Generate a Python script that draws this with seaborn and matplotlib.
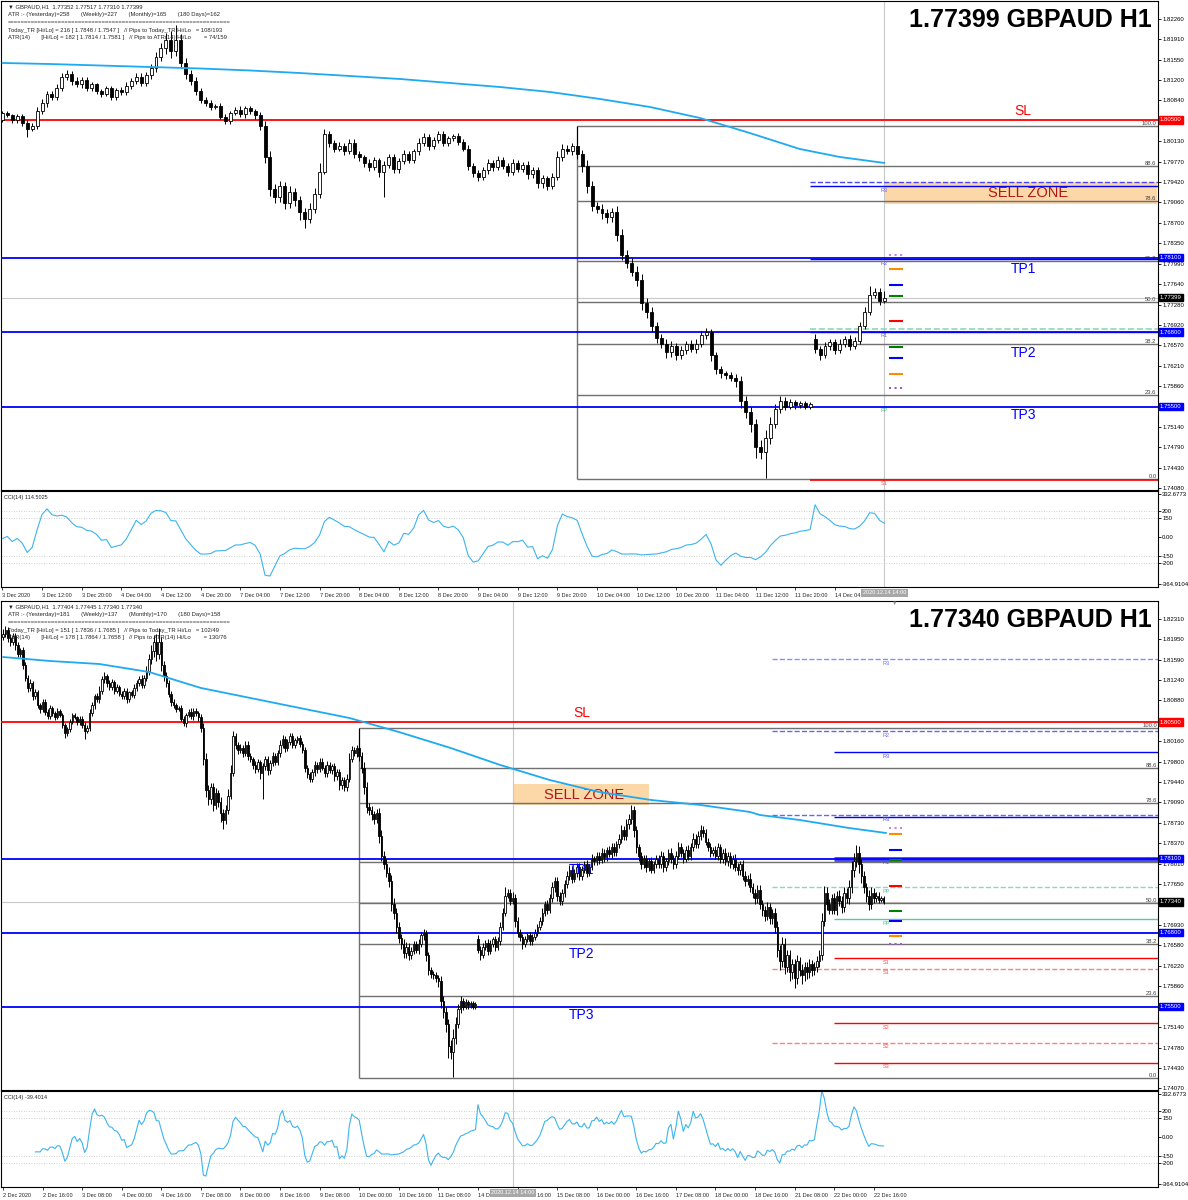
import numpy as np
import pandas as pd
import matplotlib
matplotlib.use("Agg")
import matplotlib.pyplot as plt
import matplotlib.transforms as mtrans
import seaborn as sns

W, H = 1188, 1200

# GBPAUD H1 closes in pips (x 1e-4), one row per trading day
# 2 Dec 00:00 .. 22 Dec 20:00 (bar 0 .. bar 356)
week1_close = [
    18205, 18212, 18198, 18190, 18201, 18185, 18170, 18176, 18150, 18128, 18110, 18118, 18095, 18102, 18080, 18072, 18085, 18068, 18060, 18075, 18066, 18058, 18070, 18062,
    18045, 18030, 18038, 18050, 18062, 18058, 18050, 18056, 18044, 18035, 18040, 18065, 18080, 18095, 18090, 18105, 18125, 18130, 18118, 18112, 18120, 18105, 18112, 18100,
    18095, 18105, 18090, 18102, 18098, 18110, 18118, 18125, 18115, 18128, 18140, 18160, 18175, 18190, 18170, 18190, 18150, 18130, 18118, 18100, 18085, 18080, 18072, 18075,
]
week2_close = [
    18055, 18048, 18062, 18068, 18060, 18070, 18065, 18058, 18040, 17985, 17930, 17915, 17935, 17905, 17925, 17910, 17890, 17878, 17895, 17920, 17960, 18025, 18010, 18000,
    18005, 17995, 18010, 17990, 17985, 17975, 17968, 17980, 17960, 17972, 17985, 17965, 17978, 17990, 17980, 17995, 18010, 18020, 18005, 18015, 18025, 18010, 18018, 18022,
    18012, 18000, 17970, 17958, 17950, 17962, 17975, 17968, 17980, 17970, 17960, 17975, 17965, 17972, 17955, 17962, 17940, 17948, 17935, 17950, 17985, 18000, 17995, 18005,
    17990, 17970, 17935, 17900, 17895, 17888, 17880, 17890, 17850, 17815, 17800, 17785, 17770, 17730, 17715, 17690, 17670, 17660, 17645, 17655, 17640, 17648, 17660, 17650,
    17660, 17675, 17680, 17640, 17615, 17608, 17605, 17600, 17595, 17560, 17540, 17520, 17480, 17470, 17495, 17520, 17545, 17560, 17550, 17558, 17552, 17556, 17550, 17555,
]
week3_close = [
    17650, 17640, 17655, 17662, 17648, 17660, 17668, 17655, 17665, 17690, 17715, 17745, 17750, 17735, 17740, 17700, 17680, 17672, 17660, 17668, 17675, 17665, 17672, 17680,
    17690, 17700, 17715, 17730, 17720, 17740, 17760, 17770, 17745, 17735, 17750, 17765, 17780, 17790, 17775, 17785, 17795, 17780, 17790, 17800, 17785, 17795, 17810, 17805,
    17815, 17808, 17820, 17812, 17825, 17818, 17830, 17822, 17835, 17845, 17860, 17850, 17870, 17880, 17895, 17860, 17830, 17815, 17800, 17810, 17795, 17805, 17790, 17800,
    17810, 17800, 17815, 17795, 17805, 17820, 17810, 17800, 17815, 17830, 17820, 17810, 17825, 17815, 17830, 17845, 17835, 17850, 17860, 17855, 17840, 17830, 17820, 17825,
    17815, 17830, 17810, 17820, 17805, 17815, 17800, 17810, 17795, 17790, 17800, 17780, 17770, 17775, 17760, 17750, 17740, 17755, 17730, 17720, 17710, 17725, 17705, 17715,
]
week4_close = [
    17690, 17650, 17630, 17660, 17620, 17640, 17610, 17625, 17600, 17630, 17615, 17605, 17620, 17610, 17625, 17615, 17620, 17630, 17640, 17700, 17750, 17730, 17720, 17740,
    17720, 17745, 17735, 17725, 17750, 17740, 17760, 17790, 17805, 17820, 17800, 17780, 17760, 17745, 17730, 17750, 17740, 17745, 17738, 17740, 17734,
]

# upper / lower wick length in pips
week1_wick_up = [
    8, 6, 5, 7, 6, 5, 6, 4, 5, 6, 5, 7, 4, 6, 5, 4, 6, 5, 4, 5, 4, 3, 4, 3,
    3, 4, 3, 5, 4, 4, 3, 5, 4, 6, 5, 7, 6, 5, 6, 8, 6, 7, 5, 6, 5, 4, 4, 3,
    4, 5, 4, 3, 5, 6, 5, 6, 7, 5, 8, 9, 10, 12, 15, 25, 10, 8, 7, 6, 5, 5, 4, 3,
]
week2_wick_up = [
    5, 6, 4, 5, 6, 4, 5, 4, 6, 8, 10, 9, 8, 7, 9, 6, 8, 7, 10, 12, 15, 10, 6, 5,
    6, 5, 7, 6, 5, 4, 6, 5, 4, 6, 5, 6, 5, 7, 6, 5, 8, 7, 6, 5, 6, 5, 4, 4,
    5, 4, 6, 5, 4, 5, 6, 5, 7, 6, 5, 6, 5, 4, 6, 5, 5, 6, 5, 8, 10, 8, 6, 5,
    35, 8, 10, 9, 7, 8, 6, 7, 9, 10, 8, 9, 10, 12, 10, 9, 8, 7, 8, 9, 6, 7, 5, 6,
    8, 6, 7, 5, 6, 5, 4, 5, 6, 8, 9, 10, 8, 12, 15, 12, 10, 8, 6, 5, 4, 4, 3, 3,
]
week3_wick_up = [
    8, 6, 7, 5, 6, 7, 5, 6, 7, 8, 9, 15, 7, 6, 12, 8, 7, 6, 5, 6, 5, 6, 5, 6,
    6, 7, 8, 6, 7, 8, 9, 8, 7, 6, 7, 8, 9, 8, 7, 6, 7, 8, 7, 6, 7, 6, 8, 5,
    7, 6, 8, 7, 6, 7, 8, 7, 6, 8, 9, 8, 10, 9, 9, 8, 7, 6, 7, 6, 7, 6, 7, 5,
    7, 6, 8, 7, 6, 7, 8, 7, 8, 9, 8, 7, 8, 9, 8, 10, 9, 8, 9, 8, 7, 6, 7, 6,
    7, 8, 6, 7, 8, 7, 6, 7, 8, 7, 6, 7, 8, 7, 9, 8, 7, 8, 9, 8, 7, 8, 7, 6,
]
week4_wick_up = [
    8, 10, 9, 12, 10, 9, 10, 8, 9, 10, 8, 9, 8, 9, 8, 7, 8, 9, 10, 15, 12, 10, 9, 8,
    9, 8, 10, 9, 10, 9, 12, 15, 14, 14, 12, 10, 9, 8, 9, 10, 8, 7, 6, 5, 4,
]
week1_wick_dn = [
    6, 5, 7, 6, 5, 8, 6, 5, 7, 6, 8, 5, 6, 5, 6, 7, 5, 6, 5, 4, 5, 4, 3, 4,
    5, 8, 4, 5, 4, 3, 6, 5, 4, 15, 4, 6, 5, 7, 5, 6, 5, 6, 7, 5, 6, 5, 4, 4,
    5, 4, 6, 5, 4, 5, 6, 5, 6, 5, 6, 7, 8, 10, 12, 9, 10, 8, 7, 6, 6, 5, 4, 3,
]
week2_wick_dn = [
    4, 5, 6, 4, 5, 6, 5, 6, 8, 10, 12, 10, 9, 11, 8, 10, 15, 16, 8, 7, 6, 5, 7, 6,
    5, 6, 5, 7, 6, 8, 7, 6, 10, 45, 6, 8, 7, 5, 6, 5, 6, 5, 7, 6, 5, 6, 5, 4,
    6, 5, 8, 7, 6, 5, 6, 7, 6, 5, 7, 6, 5, 6, 8, 7, 9, 8, 7, 6, 5, 6, 5, 6,
    8, 10, 12, 9, 8, 10, 9, 8, 12, 10, 9, 8, 10, 12, 11, 10, 9, 8, 10, 9, 8, 7, 6, 5,
    7, 6, 8, 10, 9, 8, 7, 6, 10, 12, 10, 15, 20, 12, 44, 10, 8, 7, 6, 5, 6, 5, 4, 4,
]
week3_wick_dn = [
    6, 8, 5, 6, 7, 5, 6, 7, 5, 6, 5, 6, 5, 7, 4, 10, 8, 7, 8, 6, 5, 7, 6, 5,
    6, 5, 7, 6, 8, 6, 7, 8, 9, 7, 6, 7, 6, 7, 8, 6, 7, 8, 7, 6, 7, 6, 5, 6,
    6, 7, 6, 8, 7, 6, 7, 8, 7, 6, 7, 8, 7, 8, 9, 12, 10, 9, 8, 7, 8, 7, 6, 6,
    6, 7, 6, 8, 7, 6, 7, 8, 7, 6, 8, 7, 6, 7, 8, 7, 6, 7, 8, 7, 6, 7, 8, 6,
    6, 7, 8, 7, 6, 8, 7, 8, 7, 9, 8, 7, 8, 7, 8, 9, 10, 8, 9, 10, 9, 8, 10, 9,
]
week4_wick_dn = [
    10, 12, 15, 10, 12, 10, 15, 12, 18, 10, 12, 15, 10, 12, 10, 11, 10, 9, 10, 8, 9, 10, 8, 7,
    8, 9, 8, 10, 9, 8, 9, 10, 12, 10, 15, 12, 10, 12, 10, 9, 8, 7, 6, 5, 3,
]
first_open = 1.8200
gap_opens = {192: 1.7668}   # Monday 14 Dec open

# moving average (bar index, price)
top_ma_bars = [28, 37.6, 47.7, 57.8, 67.9, 78.0, 88.0, 98.1, 108.2, 118.3, 128.4, 138.5,
               148.6, 158.7, 168.8, 178.8, 188.9, 197.0, 206]
top_ma_vals = [1.81493, 1.81475, 1.81449, 1.81423, 1.81397, 1.81362, 1.81318, 1.81266, 1.81214, 1.81144,
               1.81074, 1.80987, 1.80865, 1.80725, 1.80533, 1.80272, 1.79993, 1.79853, 1.79749]
bot_ma_bars = [0, 19, 39, 59, 80, 100, 120, 140, 160, 181, 201, 221, 241, 262, 282, 302, 306, 322, 342, 357]
bot_ma_vals = [1.81642, 1.81572, 1.81519, 1.81379, 1.81098, 1.80922, 1.80746, 1.80571, 1.80325, 1.80043,
               1.79745, 1.79481, 1.79270, 1.79130, 1.79042, 1.78919, 1.78866, 1.78779, 1.78638, 1.78550]

# trade levels
level_texts = ["SL", "TP1", "TP2", "TP3"]
level_prices = [1.80500, 1.78100, 1.76800, 1.75500]
level_colors = ["#FF0000", "#0000FF", "#0000FF", "#0000FF"]
level_text_dy = [9, -11, -21, -8]

fib_ratios = [100.0, 88.6, 78.6, 61.8, 50.0, 38.2, 23.6, 0.0]
fib_high, fib_low = 1.8040, 1.7424
sell_zone = (1.7904, 1.7941)

top_yticks = [1.82260, 1.81910, 1.81550, 1.81200, 1.80840, 1.80130, 1.79770, 1.79420, 1.79060, 1.78700, 1.78350,
              1.77990, 1.77640, 1.77280, 1.76920, 1.76570, 1.76210, 1.75860, 1.75140, 1.74790, 1.74430, 1.74080]
bot_yticks = [1.82310, 1.81950, 1.81590, 1.81240, 1.80880, 1.80160, 1.79800, 1.79440, 1.79090, 1.78730, 1.78370,
              1.78010, 1.77650, 1.76930, 1.76580, 1.76220, 1.75860, 1.75140, 1.74780, 1.74430, 1.74070]
cci_ticks = [332.6773, 200, 150, 0, -150, -200, -364.9104]
cci_tick_labels = ["332.6773", "200", "150", "0.00", "-150", "-200", "-364.9104"]

top_xt_labels = ["3 Dec 2020", "3 Dec 12:00", "3 Dec 20:00", "4 Dec 04:00", "4 Dec 12:00", "4 Dec 20:00",
                 "7 Dec 04:00", "7 Dec 12:00", "7 Dec 20:00", "8 Dec 04:00", "8 Dec 12:00", "8 Dec 20:00",
                 "9 Dec 04:00", "9 Dec 12:00", "9 Dec 20:00", "10 Dec 04:00", "10 Dec 12:00", "10 Dec 20:00",
                 "11 Dec 04:00", "11 Dec 12:00", "11 Dec 20:00", "14 Dec 04:00"]
bot_xt_labels = ["2 Dec 2020", "2 Dec 16:00", "3 Dec 08:00", "4 Dec 00:00", "4 Dec 16:00", "7 Dec 08:00",
                 "8 Dec 00:00", "8 Dec 16:00", "9 Dec 08:00", "10 Dec 00:00", "10 Dec 16:00", "11 Dec 08:00",
                 "14 Dec 00:00", "14 Dec 16:00", "15 Dec 08:00", "16 Dec 00:00", "16 Dec 16:00", "17 Dec 08:00",
                 "18 Dec 00:00", "18 Dec 16:00", "21 Dec 08:00", "22 Dec 00:00", "22 Dec 16:00"]

top_header = ["\u25bc GBPAUD,H1  1.77352 1.77517 1.77310 1.77399",
              "ATR :- (Yesterday)=258       (Weekly)=227       (Monthly)=165       (180 Days)=162",
              "=" * 66,
              "Today_TR [Hi/Lo] = 216 [ 1.7848 / 1.7547 ]   // Pips to Today_TR Hi/Lo   = 108/193",
              "ATR(14)       [Hi/Lo] = 182 [ 1.7814 / 1.7581 ]   // Pips to ATR(14) Hi/Lo        = 74/159"]
bot_header = ["\u25bc GBPAUD,H1  1.77404 1.77445 1.77340 1.77340",
              "ATR :- (Yesterday)=181       (Weekly)=137       (Monthly)=170       (180 Days)=158",
              "=" * 66,
              "Today_TR [Hi/Lo] = 151 [ 1.7836 / 1.7685 ]   // Pips to Today_TR Hi/Lo   = 102/49",
              "ATR(14)       [Hi/Lo] = 178 [ 1.7864 / 1.7658 ]   // Pips to ATR(14) Hi/Lo        = 130/76"]

# pivot lines (start bar, price, colour, style, width)
top_piv_start = [191, 191, 191, 191, 191, 191]
top_piv_price = [1.79417, 1.79347, 1.78070, 1.76853, 1.76801, 1.74220]
top_piv_color = ["#4848FF", "#0000FF", "#0000FF", "#8ED8B8", "#0000FF", "#FF0000"]
top_piv_style = ["--", "-", "-", "--", "-", "-"]
top_piv_lw = [1, 1, 1, 1.2, 1, 1.2]
top_piv_text = ["R3", "R2", "R1", "PP", "S1"]
top_piv_text_price = [1.79347, 1.78070, 1.76801, 1.75500, 1.74220]
top_piv_text_color = ["#6060FF", "#6060FF", "#6060FF", "#50C090", "#FF5050"]

bot_piv_start = [311, 311, 311, 311, 311, 311, 336, 336, 336, 336, 336, 336, 336]
bot_piv_price = [1.81607, 1.80342, 1.78866, 1.77601, 1.76161, 1.74861,
                 1.79973, 1.78831, 1.78100, 1.77039, 1.76354, 1.75212, 1.74510]
bot_piv_color = ["#8C8CFF", "#6464FF", "#6464FF", "#8ED8B8", "#FF8080", "#FF8080",
                 "#0000FF", "#0000FF", "#4848FF", "#5CC8A0", "#FF0000", "#FF0000", "#FF0000"]
bot_piv_style = ["--"] * 6 + ["-"] * 7
bot_piv_lw = [1, 1, 1, 1, 1, 1, 1, 1, 3.5, 1, 1, 1, 1]
bot_piv_text = ["R3", "R2", "R3", "R3", "R1", "PP", "PP", "S1", "S1", "S2", "S2", "S3"]
bot_piv_text_price = [1.81607, 1.80342, 1.79973, 1.78866, 1.78100, 1.77601, 1.77039,
                      1.76354, 1.76161, 1.75212, 1.74861, 1.74510]
bot_piv_text_color = ["#7070FF", "#7070FF", "#5050FF", "#5050FF", "#5050FF", "#50C090", "#50C090",
                      "#FF5050", "#FF5050", "#FF5050", "#FF5050", "#FF5050"]

# short level marks right of the last bar
top_mark_price = [1.78144, 1.77900, 1.77621, 1.77429, 1.76993, 1.76539, 1.76348, 1.76069, 1.75824]
bot_mark_price = [1.78638, 1.78533, 1.78252, 1.78076, 1.77619, 1.77180, 1.77004, 1.76741, 1.76600]
mark_colors = ["#C080FF", "#FF8C00", "#0000FF", "#008000", "#FF0000", "#008000", "#0000FF", "#FF8C00", "#9060D0"]
mark_styles = [":", "-", "-", "-", "-", "-", "-", "-", ":"]

# ---------------------------------------------------------------- build bars
closes = np.array(week1_close + week2_close + week3_close + week4_close) / 1e4
wick_up = np.array(week1_wick_up + week2_wick_up + week3_wick_up + week4_wick_up) / 1e4
wick_dn = np.array(week1_wick_dn + week2_wick_dn + week3_wick_dn + week4_wick_dn) / 1e4
opens = np.r_[first_open, closes[:-1]]
for b, v in gap_opens.items():
    opens[b] = v
highs = np.maximum(opens, closes) + wick_up
lows = np.minimum(opens, closes) - wick_dn

tp = pd.Series((highs + lows + closes) / 3)
tp_mean = tp.rolling(14).mean()
tp_dev = tp.rolling(14).apply(lambda v: np.mean(np.abs(v - v.mean())), raw=True)
cci = ((tp - tp_mean) / (0.015 * tp_dev)).to_numpy()

sns.set_style("white")
plt.rcParams["font.family"] = ["Liberation Sans", "DejaVu Sans"]

fig = plt.figure(figsize=(W / 100, H / 100), dpi=100)
fig.patch.set_facecolor("white")


def px_axes(x0, y0, x1, y1):
    return fig.add_axes([x0 / W, 1 - y1 / H, (x1 - x0) / W, (y1 - y0) / H])


def frame(ax):
    for s in ax.spines.values():
        s.set_color("black")
        s.set_linewidth(0.8)
    ax.yaxis.tick_right()
    ax.tick_params(axis="y", length=2, width=0.6, pad=1, labelsize=4.3, colors="black",
                   left=False, right=True, labelleft=False, labelright=True)


def draw_chart(c):
    y0 = c["y0"]
    ax = px_axes(1, y0, 1158, y0 + 489)
    axc = px_axes(1, y0 + 490, 1158, y0 + 586)
    frame(ax)
    frame(axc)
    x_lo, x_hi = c["xlim"]

    # sell zone
    ax.fill_between([206, 261], sell_zone[0], sell_zone[1], color="#FCD8A8", lw=0, zorder=1)
    ax.text(235, np.mean(sell_zone), "SELL ZONE", color="#B01818", fontsize=10.5,
            ha="center", va="center", zorder=2)

    # fibonacci retracement
    for r in fib_ratios:
        p = fib_low + (fib_high - fib_low) * r / 100
        ax.hlines(p, 144, x_hi, color="#707070", lw=1.0, zorder=2)
        ax.text(x_hi - 0.3, p, f"{r:.1f}", ha="right", va="bottom", fontsize=4.2, color="#404040", zorder=2)
    ax.vlines(144, fib_low, fib_high, color="#707070", lw=1.0, zorder=2)

    # current price + crosshair
    ax.axhline(c["last_price"], color="#C8C8C8", lw=0.8, zorder=1)
    for a in (ax, axc):
        a.axvline(206, color="#C8C8C8", lw=0.8, zorder=1)

    # pivot lines
    for s, p, col, ls, lw in zip(c["piv_start"], c["piv_price"], c["piv_color"], c["piv_style"], c["piv_lw"]):
        ax.hlines(p, s, x_hi, color=col, ls=ls, lw=lw, zorder=3)
    for t, p, col in zip(c["piv_text"], c["piv_text_price"], c["piv_text_color"]):
        ax.annotate(t, xy=(c["piv_text_x"], p), xytext=(0, -1.5), textcoords="offset pixels",
                    ha="center", va="top", fontsize=4, color=col, zorder=4)
    for p, col, ls in zip(c["mark_price"], mark_colors, mark_styles):
        ax.hlines(p, c["mark_x"][0], c["mark_x"][1], color=col, ls=ls, lw=1.5, zorder=4)

    # SL / TP levels
    for t, p, col, dy in zip(level_texts, level_prices, level_colors, level_text_dy):
        ax.axhline(p, color=col, lw=1.3, zorder=3)
        ax.annotate(t, xy=(234, p), xytext=(0, dy), textcoords="offset pixels", ha="center", va="center",
                    fontsize=10, color=col, zorder=9)

    # candles
    idx = np.arange(c["first"], c["last"] + 1)
    o, hi, lo, cl = opens[idx], highs[idx], lows[idx], closes[idx]
    rising = cl >= o
    body = np.maximum(np.abs(cl - o), 0.00003)
    ax.vlines(idx, lo, hi, color="black", lw=0.7, zorder=5)
    ax.bar(idx[rising], body[rising], bottom=o[rising], width=c["body_w"], color="white",
           edgecolor="black", lw=0.6, zorder=6)
    ax.bar(idx[~rising], body[~rising], bottom=cl[~rising], width=c["body_w"], color="black",
           edgecolor="black", lw=0.6, zorder=6)

    # moving average
    sns.lineplot(x=c["ma_x"], y=c["ma_y"], ax=ax, color="#1EAAF0", lw=1.3, zorder=7)

    ax.set_xlim(x_lo, x_hi)
    ax.set_ylim(*c["ylim"])
    ax.set_xticks([])
    ax.set_yticks(c["yticks"])
    ax.set_yticklabels([f"{v:.5f}" for v in c["yticks"]])
    ax.set_xlabel("")
    ax.set_ylabel("")

    ytr = ax.get_yaxis_transform()
    for p, col in c["boxes"]:
        ax.text(1.0015, p, f"{p:.5f}", transform=ytr, ha="left", va="center", fontsize=4.3,
                color="white", clip_on=False, zorder=10,
                bbox=dict(boxstyle="square,pad=0.2", fc=col, ec=col))

    # CCI panel
    for v in (200, 150, -150, -200):
        axc.axhline(v, color="#C0C0C0", lw=0.6, ls=(0, (1, 2)))
    sns.lineplot(x=idx, y=cci[idx], ax=axc, color="#3CB4F0", lw=0.8)
    axc.set_xlim(x_lo, x_hi)
    axc.set_ylim(-390, 356)
    axc.set_yticks(cci_ticks)
    axc.set_yticklabels(cci_tick_labels)
    axc.set_xlabel("")
    axc.set_ylabel("")
    axc.set_xticks(c["xt_bars"])
    axc.set_xticklabels(c["xt_labels"], ha="left", fontsize=4)
    axc.tick_params(axis="x", length=2.5, width=0.6, pad=1.5, bottom=True)
    axc.text(0.003, 0.955, c["cci_label"], transform=axc.transAxes, ha="left", va="top", fontsize=4)
    xtr = mtrans.blended_transform_factory(axc.transData, axc.transAxes)
    axc.text(206, -0.035, "2020.12.14 14:00", transform=xtr, ha="center", va="top", fontsize=4,
             color="white", clip_on=False, zorder=10,
             bbox=dict(boxstyle="square,pad=0.25", fc="#A8A8A8", ec="none"))

    # header and title
    for i, line in enumerate(c["header"]):
        fig.text(8 / W, 1 - (y0 + 6 + i * 7.7) / H, line, ha="left", va="center", fontsize=4.2)
    fig.text(1152 / W, 1 - (y0 + 19) / H, c["title"], ha="right", va="center", fontsize=18,
             fontweight="bold", color="black")


top_cfg = dict(
    y0=1, first=28, last=206, xlim=(27.72, 261.2), ylim=(1.74045, 1.82574), body_w=0.6,
    yticks=top_yticks, last_price=1.77399,
    boxes=[(1.80500, "#FF0000"), (1.78100, "#0000FF"), (1.77399, "#000000"), (1.76800, "#0000FF"), (1.75500, "#0000FF")],
    ma_x=top_ma_bars, ma_y=top_ma_vals,
    piv_start=top_piv_start, piv_price=top_piv_price, piv_color=top_piv_color,
    piv_style=top_piv_style, piv_lw=top_piv_lw,
    piv_text=top_piv_text, piv_text_price=top_piv_text_price, piv_text_color=top_piv_text_color,
    piv_text_x=206, mark_price=top_mark_price, mark_x=(207, 209.7),
    xt_bars=[28 + 8 * i for i in range(len(top_xt_labels))], xt_labels=top_xt_labels,
    cci_label="CCI(14) 114.5025", header=top_header, title="1.77399 GBPAUD H1",
)
bot_cfg = dict(
    y0=601, first=0, last=356, xlim=(-0.81, 466.9), ylim=(1.74035, 1.82626), body_w=0.6,
    yticks=bot_yticks, last_price=1.77340,
    boxes=[(1.80500, "#FF0000"), (1.78100, "#0000FF"), (1.77340, "#000000"), (1.76800, "#0000FF"), (1.75500, "#0000FF")],
    ma_x=bot_ma_bars, ma_y=bot_ma_vals,
    piv_start=bot_piv_start, piv_price=bot_piv_price, piv_color=bot_piv_color,
    piv_style=bot_piv_style, piv_lw=bot_piv_lw,
    piv_text=bot_piv_text, piv_text_price=bot_piv_text_price, piv_text_color=bot_piv_text_color,
    piv_text_x=357, mark_price=bot_mark_price, mark_x=(358, 363.4),
    xt_bars=[16 * i for i in range(len(bot_xt_labels))], xt_labels=bot_xt_labels,
    cci_label="CCI(14) -39.4014", header=bot_header, title="1.77340 GBPAUD H1",
)

draw_chart(top_cfg)
draw_chart(bot_cfg)

# chart-shift marker at the top of the lower chart
fig.text(895 / W, 1 - 603 / H, "\u25bc", ha="center", va="center", fontsize=4, color="#909090")

fig.savefig("out.png", dpi=100, facecolor="white")
